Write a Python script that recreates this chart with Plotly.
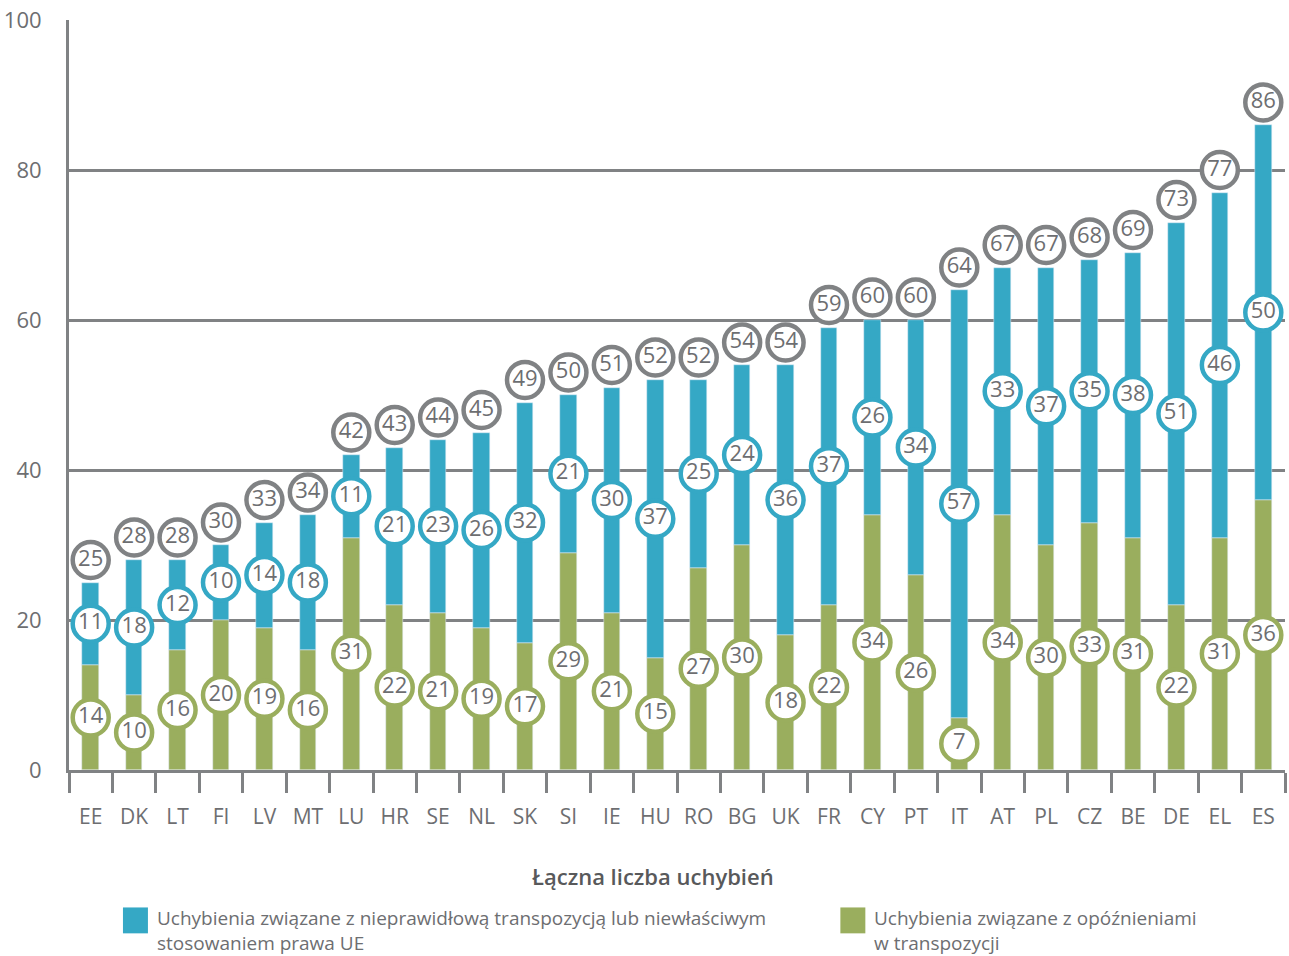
import plotly.graph_objects as go

countries = ["EE", "DK", "LT", "FI", "LV", "MT", "LU", "HR", "SE", "NL", "SK", "SI", "IE", "HU",
             "RO", "BG", "UK", "FR", "CY", "PT", "IT", "AT", "PL", "CZ", "BE", "DE", "EL", "ES"]
delays = [14, 10, 16, 20, 19, 16, 31, 22, 21, 19, 17, 29, 21, 15,
          27, 30, 18, 22, 34, 26, 7, 34, 30, 33, 31, 22, 31, 36]
incorrect = [11, 18, 12, 10, 14, 18, 11, 21, 23, 26, 32, 21, 30, 37,
             25, 24, 36, 37, 26, 34, 57, 33, 37, 35, 38, 51, 46, 50]
totals = [d + i for d, i in zip(delays, incorrect)]

y_ticks = [0, 20, 40, 60, 80, 100]

name_blue = "Uchybienia związane z nieprawidłową transpozycją lub niewłaściwym<br>stosowaniem prawa UE"
name_green = "Uchybienia związane z opóźnieniami<br>w transpozycji"
axis_title = "Łączna liczba uchybień"

BLUE = "#35a8c5"
GREEN = "#9aae5e"
GREY = "#808284"
TEXT = "#6d6e71"
FONT = "Open Sans"

fig = go.Figure()
fig.add_trace(go.Bar(x=countries, y=delays, marker_color=GREEN, width=0.38,
                     name=name_green, showlegend=False))
fig.add_trace(go.Bar(x=countries, y=incorrect, base=delays, marker_color=BLUE, width=0.38,
                     name=name_blue, showlegend=False))

def circles(yvals, labels, color):
    return go.Scatter(
        x=countries, y=yvals, mode="markers+text", text=[str(v) for v in labels],
        textposition="middle center",
        textfont=dict(family=FONT, size=22, color=TEXT),
        marker=dict(symbol="circle", size=36, color="white", line=dict(color=color, width=4.5)),
        showlegend=False, hoverinfo="skip", cliponaxis=False)

fig.add_trace(circles([d / 2 for d in delays], delays, GREEN))
fig.add_trace(circles([d + i / 2 for d, i in zip(delays, incorrect)], incorrect, BLUE))
fig.add_trace(circles([t + 3 for t in totals], totals, GREY))

L, R, T, B = 68, 4, 17, 186
W, H = 1289, 956
pw = W - L - R
ph = H - T - B

def px(x):
    return (x - L) / pw

def py(y):
    return (H - B - y) / ph

fig.update_layout(
    width=W, height=H, margin=dict(l=L, r=R, t=T, b=B),
    paper_bgcolor="white", plot_bgcolor="white", barmode="overlay", bargap=0,
    font=dict(family=FONT, color=TEXT),
    xaxis=dict(type="category", showgrid=False, showline=True, linecolor=GREY, linewidth=3,
               ticks="outside", tickson="boundaries", ticklen=20, tickwidth=3, tickcolor=GREY,
               tickfont=dict(family=FONT, size=21, color=TEXT), ticklabelstandoff=26,
               range=[-0.5, len(countries) - 0.5]),
    yaxis=dict(range=[0, 100], tickvals=y_ticks, showgrid=True, gridcolor=GREY, gridwidth=2.5,
               showline=True, linecolor=GREY, linewidth=3, zeroline=False, ticks="",
               tickfont=dict(family=FONT, size=22, color=TEXT), ticklabelstandoff=20),
)

fig.add_annotation(x=px(652), y=py(876), xref="paper", yref="paper", text=axis_title,
                   showarrow=False, font=dict(family=FONT, size=22, color="#58595b", weight=600),
                   xanchor="center", yanchor="middle")

legend_items = [(122, BLUE, name_blue), (840, GREEN, name_green)]
for x0, col, txt in legend_items:
    fig.add_shape(type="rect", xref="paper", yref="paper",
                  x0=px(x0), x1=px(x0 + 25), y0=py(934), y1=py(908),
                  fillcolor=col, line=dict(width=0))
    fig.add_annotation(x=px(x0 + 32), y=py(904), xref="paper", yref="paper", text=txt,
                       showarrow=False, align="left", xanchor="left", yanchor="top",
                       font=dict(family=FONT, size=19, color=TEXT))

fig.write_html("out.html", config={"displayModeBar": False},
               post_script="document.body.style.margin='0';")
